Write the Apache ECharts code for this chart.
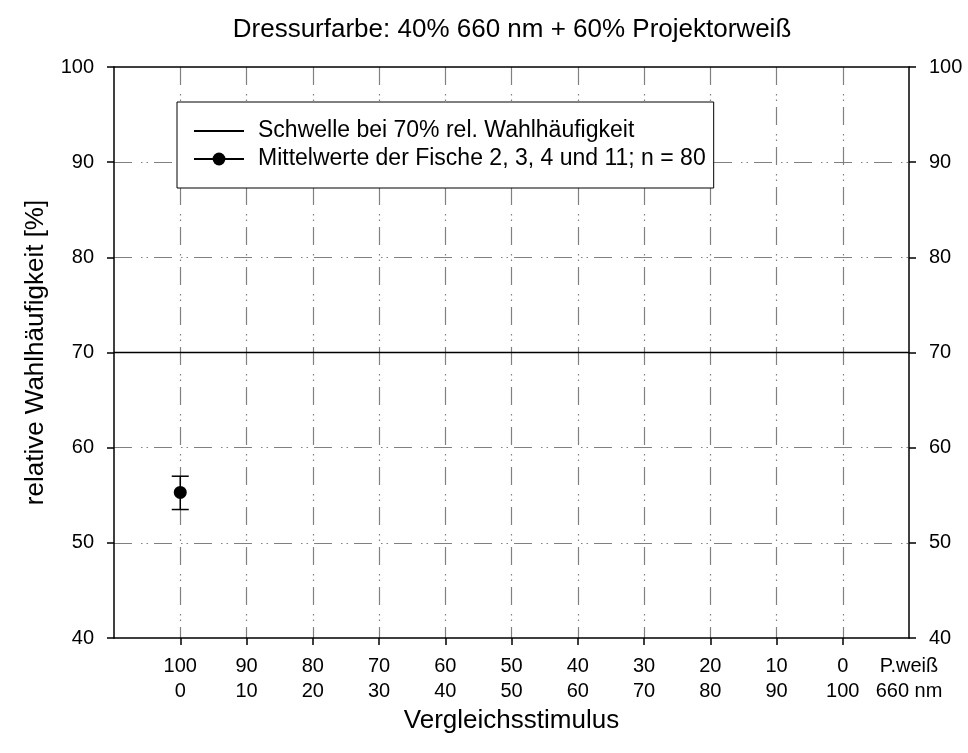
<!DOCTYPE html>
<html>
<head>
<meta charset="utf-8">
<script src="https://cdn.jsdelivr.net/npm/echarts@6/dist/echarts.min.js"></script>
<style>
html,body{margin:0;padding:0;background:#fff;}
#chart{width:968px;height:753px;}
</style>
</head>
<body>
<div id="chart"></div>
<script>
// ---- data ----
const titleText = 'Dressurfarbe: 40% 660 nm + 60% Projektorweiß';
const pWeissPct = [100, 90, 80, 70, 60, 50, 40, 30, 20, 10, 0];
const nm660Pct  = [0, 10, 20, 30, 40, 50, 60, 70, 80, 90, 100];
const endLabel = 'P.weiß\n660 nm';
const thresholdName = 'Schwelle bei 70% rel. Wahlhäufigkeit';
const thresholdValue = 70;
const meanName = 'Mittelwerte der Fische 2, 3, 4 und 11; n = 80';
const meanCategory = ['100\n0'];
const meanValues = [55.3];
const errLow = [53.5];
const errHigh = [57.0];
const yTicks = [40, 50, 60, 70, 80, 90, 100];

// category axis: empty slot at left edge, the mixtures, and the end label at the right edge
const categories = [''].concat(pWeissPct.map((p, i) => p + '\n' + nm660Pct[i]), [endLabel]);
const catIdx = c => categories.indexOf(c);

const FONT = "'Liberation Sans', Arial, sans-serif";
const gridDash = [18, 9, 1.5, 4, 1.5, 6];
const gridColor = '#808080';
const innerTick = (index) => index >= 1 && index <= categories.length - 2;

const chart = echarts.init(document.getElementById('chart'), null, {renderer: 'canvas'});
const option = {
  animation: false,
  textStyle: {fontFamily: FONT},
  graphic: [{
    type: 'text', x: 512, y: 30,
    style: {text: titleText, font: '26px ' + FONT, fill: '#000', textAlign: 'center', textVerticalAlign: 'middle'}
  }],
  grid: {left: 114, right: 59, top: 67, bottom: 115, show: false},
  legend: {
    orient: 'vertical', left: 177, top: 102, z: 10,
    padding: [15, 8, 15, 16],
    itemWidth: 50, itemHeight: 16, itemGap: 0,
    backgroundColor: '#fff', borderColor: '#000', borderWidth: 1,
    textStyle: {fontSize: 23, lineHeight: 28, color: '#000', fontFamily: FONT, padding: [0, 0, 0, 9]},
    data: [
      {name: thresholdName, itemStyle: {color: 'rgba(0,0,0,0)', borderColor: 'rgba(0,0,0,0)', borderWidth: 0}},
      {name: meanName}
    ],
    selectedMode: false
  },
  xAxis: [{
    type: 'category', data: categories, boundaryGap: false, position: 'bottom',
    name: 'Vergleichsstimulus', nameLocation: 'middle', nameGap: 70, nameMoveOverlap: false,
    nameTextStyle: {fontSize: 26, color: '#000', fontFamily: FONT},
    axisLine: {show: true, lineStyle: {color: '#000', width: 1.5}},
    axisTick: {show: true, length: 7, interval: innerTick, lineStyle: {color: '#000', width: 1.5}},
    axisLabel: {interval: 0, fontSize: 20, lineHeight: 25, color: '#000', margin: 16, fontFamily: FONT},
    splitLine: {show: true, interval: innerTick, lineStyle: {color: gridColor, width: 1.2, type: gridDash}}
  }, {
    type: 'category', data: categories, boundaryGap: false, position: 'top',
    axisLine: {show: true, lineStyle: {color: '#000', width: 1.5}},
    axisTick: {show: false}, axisLabel: {show: false}, splitLine: {show: false}
  }],
  yAxis: [{
    type: 'value', min: yTicks[0], max: yTicks[yTicks.length - 1], interval: 10, position: 'left',
    name: 'relative Wahlhäufigkeit [%]', nameLocation: 'middle', nameGap: 65,
    nameTextStyle: {fontSize: 26, color: '#000', fontFamily: FONT},
    axisLine: {show: true, lineStyle: {color: '#000', width: 1.5}},
    axisTick: {show: true, length: 7, lineStyle: {color: '#000', width: 1.5}},
    axisLabel: {fontSize: 20, color: '#000', margin: 20, fontFamily: FONT},
    splitLine: {show: true, showMinLine: false, showMaxLine: false, lineStyle: {color: gridColor, width: 1.2, type: gridDash}}
  }, {
    type: 'value', min: yTicks[0], max: yTicks[yTicks.length - 1], interval: 10, position: 'right',
    axisLine: {show: true, lineStyle: {color: '#000', width: 1.5}},
    axisTick: {show: true, length: 7, lineStyle: {color: '#000', width: 1.5}},
    axisLabel: {fontSize: 20, color: '#000', margin: 20, fontFamily: FONT},
    splitLine: {show: false}
  }],
  series: [{
    type: 'custom', name: 'errorbar', silent: true, z: 3,
    data: meanCategory.map((c, i) => [catIdx(c), errLow[i], errHigh[i]]),
    encode: {x: 0, y: [1, 2]},
    renderItem: function (params, api) {
      const x = api.value(0);
      const lo = api.coord([x, api.value(1)]);
      const hi = api.coord([x, api.value(2)]);
      const w = 8.5;
      const st = {stroke: '#000', lineWidth: 1.5};
      return {type: 'group', children: [
        {type: 'line', shape: {x1: lo[0], y1: lo[1], x2: hi[0], y2: hi[1]}, style: st},
        {type: 'line', shape: {x1: lo[0] - w, y1: lo[1], x2: lo[0] + w, y2: lo[1]}, style: st},
        {type: 'line', shape: {x1: hi[0] - w, y1: hi[1], x2: hi[0] + w, y2: hi[1]}, style: st}
      ]};
    }
  }, {
    type: 'line', name: thresholdName, z: 3,
    data: [[0, thresholdValue], [categories.length - 1, thresholdValue]],
    symbol: 'none', lineStyle: {color: '#000', width: 1.5}, itemStyle: {color: '#000'}
  }, {
    type: 'line', name: meanName, z: 4,
    data: meanCategory.map((c, i) => [catIdx(c), meanValues[i]]),
    symbol: 'circle', symbolSize: 13,
    lineStyle: {color: '#000', width: 1.5}, itemStyle: {color: '#000'}
  }]
};
chart.setOption(option);
</script>
</body>
</html>
